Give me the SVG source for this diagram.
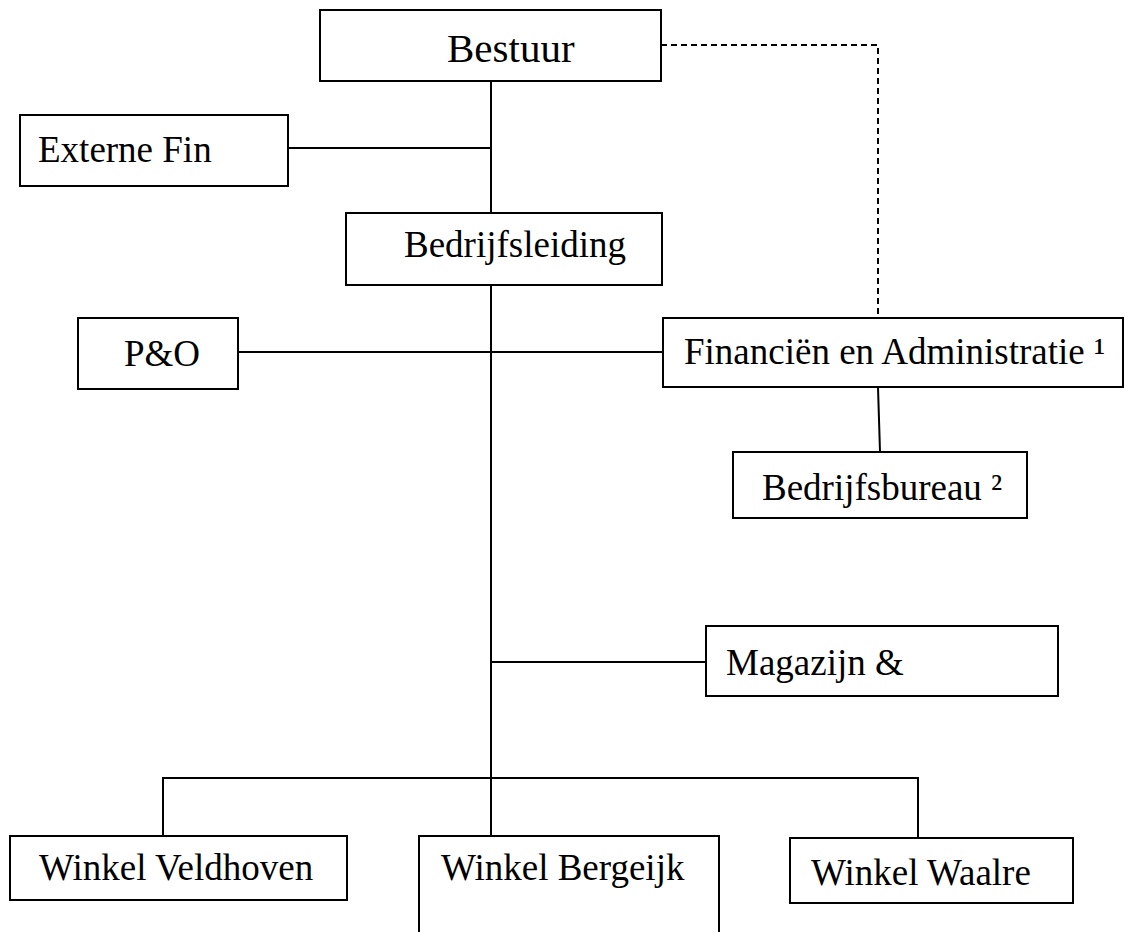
<svg xmlns="http://www.w3.org/2000/svg" width="1125" height="932" viewBox="0 0 1125 932">
<style>
.box{fill:#fff;stroke:#000;stroke-width:2}
.ln{fill:none;stroke:#000;stroke-width:2}
.dash{fill:none;stroke:#000;stroke-width:2;stroke-dasharray:6 4}
text{font-family:"Liberation Serif","Times New Roman",serif;font-size:37px;fill:#000}
</style>
<rect width="1125" height="932" fill="#fff"/>
<g id="connectors">
<path class="dash" d="M661,45 H878 V318"/>
<path class="ln" d="M491,81 V213"/>
<path class="ln" d="M288,148 H491"/>
<path class="ln" d="M491,285 V778"/>
<path class="ln" d="M238,352 H663"/>
<path class="ln" d="M878,387 L880,452"/>
<path class="ln" d="M491,662 H706"/>
<path class="ln" d="M163,836 V778 H918 V838"/>
<path class="ln" d="M491,778 V836"/>
</g>
<g id="bestuur"><rect class="box" x="320" y="10" width="341" height="71"/><text x="447" y="62" style="font-size:41px">Bestuur</text></g>
<g id="externe-fin"><rect class="box" x="20" y="115" width="268" height="71"/><text x="38" y="162">Externe Fin</text></g>
<g id="bedrijfsleiding"><rect class="box" x="346" y="213" width="316" height="72"/><text x="404" y="257">Bedrijfsleiding</text></g>
<g id="po"><rect class="box" x="78" y="318" width="160" height="71"/><text x="124" y="366">P&amp;O</text></g>
<g id="financien"><rect class="box" x="663" y="318" width="460" height="69"/><text x="684" y="364">Financiën en Administratie ¹</text></g>
<g id="bedrijfsbureau"><rect class="box" x="733" y="452" width="294" height="66"/><text x="762" y="500">Bedrijfsbureau ²</text></g>
<g id="magazijn"><rect class="box" x="706" y="626" width="352" height="70"/><text x="726" y="675">Magazijn &amp;</text></g>
<g id="winkel-veldhoven"><rect class="box" x="10" y="836" width="337" height="64"/><text x="39" y="880">Winkel Veldhoven</text></g>
<g id="winkel-bergeijk"><path class="box" d="M419,940 V836 H719 V940"/><text x="441" y="880">Winkel Bergeijk</text></g>
<g id="winkel-waalre"><rect class="box" x="790" y="838" width="283" height="65"/><text x="811" y="885">Winkel Waalre</text></g>
</svg>
